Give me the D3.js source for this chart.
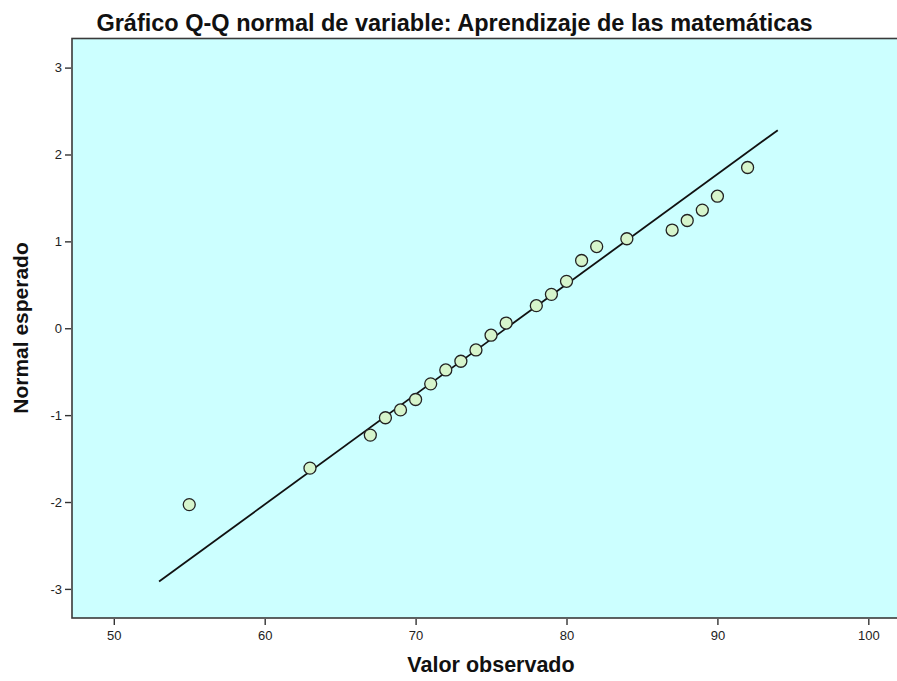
<!DOCTYPE html>
<html>
<head>
<meta charset="utf-8">
<script src="https://cdn.jsdelivr.net/npm/d3@7"></script>
<style>
	body{margin:0;background:#fff}
	#my_dataviz{width:897px;height:681px}
</style>
</head>
<body>
<div id="my_dataviz"></div>
<script>

var observed=[55,63,67,68,69,70,71,72,73,74,75,76,78,79,80,81,82,84,87,88,89,90,92]
var expected=[-2.03,-1.61,-1.23,-1.03,-0.94,-0.82,-0.64,-0.48,-0.38,-0.25,-0.08,0.06,0.26,0.39,0.54,0.78,0.94,1.03,1.13,1.24,1.36,1.52,1.85]
// recta de referencia (media 76, desv. 7.89)
var lineX=[53,94]
var lineY=[-2.915,2.28]
var xTicks=[50,60,70,80,90,100]
var yTicks=[-3,-2,-1,0,1,2,3]
var title="Gráfico Q-Q normal de variable: Aprendizaje de las matemáticas"
var xLabel="Valor observado"
var yLabel="Normal esperado"

class QQGraph{

	constructor(){
		this.graph={}
	}

	start(){
		this.drawAxis()
		this.drawLine()
		this.drawDots()
		this.drawTexts()
	}

	drawAxis(){
		var g=this.graph
		g.left=72
		g.right=900
		g.top=38.5
		g.bottom=618

		g.svg=d3.select("#my_dataviz").append("svg")
			.attr("width",897)
			.attr("height",681)
			.style("font-family","'Liberation Sans', Arial, sans-serif")

		g.xScale=d3.scaleLinear()
			.domain([47.23,102.1])
			.range([g.left,g.right])

		g.yScale=d3.scaleLinear()
			.domain([-3.335,3.335])
			.range([g.bottom,g.top])

		g.svg.append("rect")
			.attr("x",g.left)
			.attr("y",g.top)
			.attr("width",g.right-g.left)
			.attr("height",g.bottom-g.top)
			.attr("fill","#ccffff")
			.attr("stroke","#3a3a3a")
			.attr("stroke-width",1.6)

		var gx=g.svg.append("g")
			.attr("transform","translate(0,"+(g.bottom+1)+")")
			.call(d3.axisBottom(g.xScale).tickValues(xTicks).tickSize(6).tickPadding(6).tickFormat(d3.format("d")))
		var gy=g.svg.append("g")
			.attr("transform","translate("+(g.left-1)+",0)")
			.call(d3.axisLeft(g.yScale).tickValues(yTicks).tickSize(6).tickPadding(3).tickFormat(d=>d<0?"-"+Math.abs(d):d))

		for(let a of [gx,gy]){
			a.select(".domain").remove()
			a.selectAll(".tick line").attr("stroke","#333").attr("stroke-width",1.4)
			a.selectAll(".tick text")
				.attr("fill","#222")
				.style("font-size","13px")
				.style("font-family","'Liberation Sans Narrow', 'Liberation Sans', Arial, sans-serif")
		}
	}

	drawLine(){
		var g=this.graph
		var pts=lineX.map((d,i)=>[d,lineY[i]])
		g.svg.append("path")
			.datum(pts)
			.attr("fill","none")
			.attr("stroke","#111")
			.attr("stroke-width",1.8)
			.attr("d",d3.line().x(d=>g.xScale(d[0])).y(d=>g.yScale(d[1])))
	}

	drawDots(){
		var g=this.graph
		var data=observed.map((d,i)=>({x:d,y:expected[i]}))
		g.svg.selectAll(".dot")
			.data(data)
			.enter()
			.append("circle")
			.attr("class","dot")
			.attr("cx",d=>g.xScale(d.x))
			.attr("cy",d=>g.yScale(d.y))
			.attr("r",6)
			.attr("fill","#d6f5cc")
			.attr("stroke","#222")
			.attr("stroke-width",1.3)
	}

	drawTexts(){
		var g=this.graph
		g.svg.append("text")
			.text(title)
			.attr("x",454.5)
			.attr("y",31)
			.attr("text-anchor","middle")
			.attr("font-weight","bold")
			.attr("font-size","23.5px")
			.attr("fill","#111")

		g.svg.append("text")
			.text(xLabel)
			.attr("x",491)
			.attr("y",672)
			.attr("text-anchor","middle")
			.attr("font-weight","bold")
			.attr("font-size","21.5px")
			.attr("fill","#111")

		g.svg.append("text")
			.text(yLabel)
			.attr("transform","translate(28,328) rotate(-90)")
			.attr("text-anchor","middle")
			.attr("font-weight","bold")
			.attr("font-size","21px")
			.attr("fill","#111")
	}
}

var qqGraph=new QQGraph()
qqGraph.start()

</script>
</body>
</html>
